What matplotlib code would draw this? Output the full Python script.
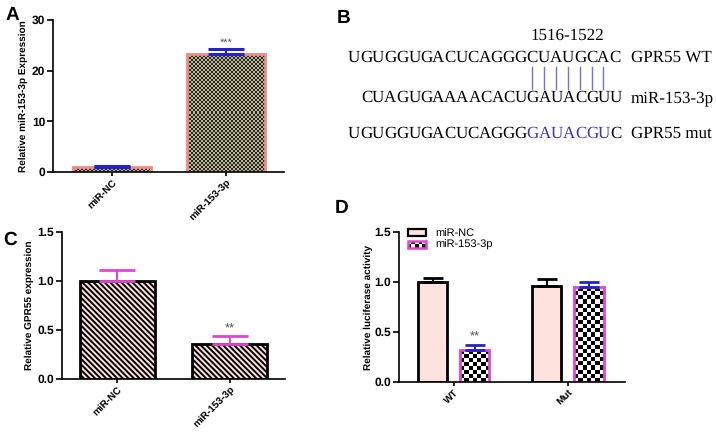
import numpy as np
import matplotlib
matplotlib.use("Agg")
import matplotlib.pyplot as plt
from matplotlib import ft2font
from matplotlib.colors import ListedColormap
from matplotlib.patches import Patch, Rectangle
from matplotlib.legend_handler import HandlerBase
from matplotlib.lines import Line2D
from matplotlib.font_manager import FontProperties, findfont, get_font

plt.rcParams['font.family'] = ['Liberation Sans', 'DejaVu Sans']
plt.rcParams['hatch.linewidth'] = 1.4
plt.rcParams['text.hinting'] = 'none'
plt.rcParams['text.hinting_factor'] = 1

# panel A: miR-153-3p expression
a_groups = ['miR-NC', 'miR-153-3p']
a_mean = [1.0, 23.3]
a_err = [0.2, 0.9]
a_stars = ['', '***']

# panel C: GPR55 expression
c_groups = ['miR-NC', 'miR-153-3p']
c_mean = [1.0, 0.36]
c_err = [0.11, 0.08]
c_stars = ['', '**']

# panel D: luciferase activity
d_groups = ['WT', 'Mut']
d_nc = [1.0, 0.96]
d_nc_err = [0.04, 0.07]
d_mir = [0.32, 0.95]
d_mir_err = [0.05, 0.05]
d_stars = ['**', '']

# panel B: binding site
site_label = '1516-1522'
wt_parts = ['UGUGGUGACUCAGGG', 'CUAUGCA', 'C']
mir_parts = ['CUAGUGAAAACACU', 'GAUACGU', 'U']
mut_parts = ['UGUGGUGACUCAGGG', 'GAUACGU', 'C']
row_labels = ['GPR55 WT', 'miR-153-3p', 'GPR55 mut']

W, H = 716, 437
fig = plt.figure(figsize=(W / 100, H / 100), dpi=100)

PINK_EDGE = '#f08a8a'
BLUE = '#2323c8'
MAGENTA = '#e445cf'
LIGHT_PINK = '#fde2de'


def px_axes(left, top, right, bottom):
    return fig.add_axes([left / W, 1 - bottom / H, (right - left) / W, (bottom - top) / H])


def style_axes(ax):
    for s in ['top', 'right']:
        ax.spines[s].set_visible(False)
    for s in ['left', 'bottom']:
        ax.spines[s].set_linewidth(1.2)
    ax.tick_params(axis='y', length=4, width=1.2, labelsize=8.5, pad=1.5)
    ax.tick_params(axis='x', length=3, width=1.2, labelsize=7.5, pad=1)
    for lab in ax.get_yticklabels() + ax.get_xticklabels():
        lab.set_fontweight('bold')


def checker(ax, bar, cell_px, dark, light):
    x0, y0 = bar.get_x(), bar.get_y()
    w, h = bar.get_width(), bar.get_height()
    (p0x, p0y), (p1x, p1y) = ax.transData.transform([(x0, y0), (x0 + w, y0 + h)])
    nx = max(1, int(round(abs(p1x - p0x) / cell_px)))
    ny = max(1, int(round(abs(p1y - p0y) / cell_px)))
    board = np.add.outer(np.arange(ny), np.arange(nx)) % 2
    im = ax.imshow(board, extent=(x0, x0 + w, y0, y0 + h), origin='lower',
                   cmap=ListedColormap([light, dark]), interpolation='nearest',
                   aspect='auto', zorder=1.5)
    im.set_clip_path(bar)


class CheckerHandler(HandlerBase):
    def create_artists(self, legend, orig_handle, xdescent, ydescent, width, height,
                       fontsize, trans):
        x0, y0 = -xdescent, -ydescent
        arts = [Rectangle((x0, y0), width, height, facecolor='white', edgecolor='none',
                          transform=trans)]
        nx, ny = 5, 2
        cw, ch = width / nx, height / ny
        for i in range(nx):
            for j in range(ny):
                if (i + j) % 2 == 0:
                    arts.append(Rectangle((x0 + i * cw, y0 + j * ch), cw, ch,
                                          facecolor='black', edgecolor='none', transform=trans))
        arts.append(Rectangle((x0, y0), width, height, facecolor='none',
                              edgecolor=orig_handle.get_edgecolor(), linewidth=1.8,
                              transform=trans))
        return arts


def xlabels(ax, labels):
    ax.set_xticks(range(len(labels)))
    ax.set_xticklabels(labels, rotation=45, ha='right', rotation_mode='anchor',
                       fontweight='bold', fontsize=7.5)


# ---- A ----
axA = px_axes(53, 20, 284, 172)
xa = np.arange(len(a_groups))
axA.set_xlim(-0.52, 1.51)
axA.set_ylim(0, 30)
barsA = axA.bar(xa, a_mean, width=0.68, facecolor='none', edgecolor=PINK_EDGE,
                linewidth=2.0, zorder=2)
for b in barsA:
    checker(axA, b, 2.0, '#26251c', '#bdb79c')
axA.errorbar(xa, a_mean, yerr=[np.zeros(len(a_err)), a_err], fmt='none',
             ecolor=BLUE, elinewidth=1.5, capsize=13, capthick=2.2, zorder=3)
for x, m, e, s in zip(xa, a_mean, a_err, a_stars):
    if s:
        axA.text(x, m + e + 0.3, s, ha='center', va='bottom', fontsize=8, color='#555555')
axA.set_xlim(-0.52, 1.51)
axA.set_ylim(0, 30)
axA.set_yticks([0, 10, 20, 30])
xlabels(axA, a_groups)
axA.set_ylabel('Relative miR-153-3p Expression', fontsize=7.5, fontweight='bold', labelpad=3)
style_axes(axA)

# ---- C ----
axC = px_axes(62, 232, 285, 379)
xc = np.arange(len(c_groups))
axC.bar(xc, c_mean, width=0.67, color=LIGHT_PINK, edgecolor='black', linewidth=2.0,
        hatch='\\' * 6, zorder=2)
axC.errorbar(xc, c_mean, yerr=[np.zeros(len(c_err)), c_err], fmt='none',
             ecolor=MAGENTA, elinewidth=1.5, capsize=13, capthick=2.0, zorder=3)
for x, m, e, s in zip(xc, c_mean, c_err, c_stars):
    if s:
        axC.text(x, m + e + 0.01, s, ha='center', va='bottom', fontsize=9, color='#555555')
axC.set_xlim(-0.495, 1.495)
axC.set_ylim(0, 1.5)
axC.set_yticks([0, 0.5, 1.0, 1.5])
axC.set_yticklabels(['0.0', '0.5', '1.0', '1.5'])
xlabels(axC, c_groups)
axC.set_ylabel('Relative GPR55 expression', fontsize=7.5, fontweight='bold', labelpad=3)
style_axes(axC)

# ---- D ----
axD = px_axes(399, 232, 625, 382)
xd = np.arange(len(d_groups))
off, bw = 0.185, 0.255
axD.set_xlim(-0.48, 1.5)
axD.set_ylim(0, 1.5)
axD.bar(xd - off, d_nc, width=bw, color=LIGHT_PINK, edgecolor='black', linewidth=2.0, zorder=2)
barsD = axD.bar(xd + off, d_mir, width=bw, facecolor='none', edgecolor=MAGENTA,
                linewidth=2.0, zorder=2)
for b in barsD:
    checker(axD, b, 4.2, 'black', 'white')
axD.errorbar(xd - off, d_nc, yerr=[np.zeros(len(d_nc_err)), d_nc_err], fmt='none',
             ecolor='black', elinewidth=1.5, capsize=7, capthick=2.0, zorder=3)
axD.errorbar(xd + off, d_mir, yerr=[np.zeros(len(d_mir_err)), d_mir_err], fmt='none',
             ecolor=BLUE, elinewidth=1.5, capsize=7, capthick=2.0, zorder=3)
for x, m, e, s in zip(xd + off, d_mir, d_mir_err, d_stars):
    if s:
        axD.text(x, m + e + 0.02, s, ha='center', va='bottom', fontsize=9, color='#555555')
axD.set_xlim(-0.48, 1.5)
axD.set_ylim(0, 1.5)
axD.set_yticks([0, 0.5, 1.0, 1.5])
axD.set_yticklabels(['0.0', '0.5', '1.0', '1.5'])
xlabels(axD, d_groups)
axD.set_ylabel('Relative luciferase activity', fontsize=7.5, fontweight='bold', labelpad=1)
style_axes(axD)
h_nc = Patch(facecolor=LIGHT_PINK, edgecolor='black', linewidth=1.6)
h_mir = Patch(facecolor='white', edgecolor=MAGENTA)
axD.legend([h_nc, h_mir], ['miR-NC', 'miR-153-3p'], loc='upper left',
           bbox_to_anchor=(-0.005, 1.09), frameon=False, fontsize=8,
           handlelength=1.6, handleheight=0.6, handletextpad=0.9, labelspacing=0.12,
           handler_map={h_mir: CheckerHandler()})

# ---- panel letters ----
for letter, (lx, ly) in zip('ABCD', [(6, 20), (337, 23), (3, 245), (335, 213)]):
    fig.text(lx / W, 1 - ly / H, letter, fontsize=14, fontweight='bold', va='baseline')

# ---- B: sequences ----
SERIF = 'Liberation Serif'
SEQ_SIZE = 12
seq_font = get_font(findfont(FontProperties(family=SERIF)))
if hasattr(ft2font, 'LoadFlags'):
    NO_SCALE = ft2font.LoadFlags.NO_SCALE
else:
    NO_SCALE = ft2font.LOAD_NO_SCALE
EM_PX = SEQ_SIZE * fig.dpi / 72


def adv(s):
    # advance width of s in pixels at the nominal size (from font units)
    units = sum(seq_font.load_char(ord(c), flags=NO_SCALE).horiAdvance for c in s)
    return units / seq_font.units_per_EM * EM_PX


def seq_row(x0, y, parts, colors):
    # one text per letter so every letter sits on its computed advance position
    x = x0
    for s, c in zip(parts, colors):
        for ch in s:
            fig.text(x / W, 1 - y / H, ch, color=c, fontsize=SEQ_SIZE, family=SERIF,
                     va='baseline')
            x += adv(ch)


y1, y2, y3 = 62, 102, 138
x_start = 348
site_left = x_start + adv(wt_parts[0])
centers = [site_left + adv(wt_parts[1][:i]) + adv(ch) / 2
           for i, ch in enumerate(wt_parts[1])]

seq_row(x_start, y1, wt_parts, ['black'] * 3)
seq_row(site_left - adv(mir_parts[0]), y2, mir_parts, ['black'] * 3)
seq_row(x_start, y3, mut_parts, ['black', '#3535cc', 'black'])

for cx in centers:
    fig.add_artist(Line2D([cx / W, cx / W], [1 - 67 / H, 1 - 89 / H],
                          color='#7272d6', linewidth=1.0))

fig.text((centers[0] + centers[-1]) / 2 / W, 1 - 40 / H, site_label, fontsize=SEQ_SIZE,
         family=SERIF, ha='center', va='baseline')
for lab, y in zip(row_labels, [y1, y2, y3]):
    fig.text(631 / W, 1 - y / H, lab, fontsize=SEQ_SIZE, family=SERIF, va='baseline')

fig.savefig('out.png', dpi=100)
